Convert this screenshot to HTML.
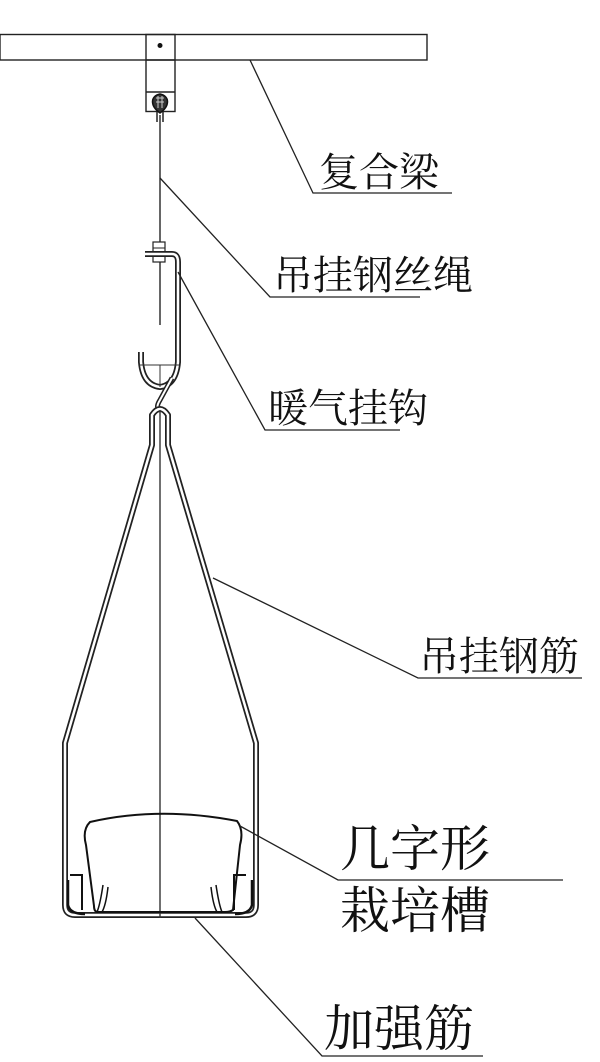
<!DOCTYPE html>
<html><head><meta charset="utf-8"><style>
html,body{margin:0;padding:0;background:#fff;width:600px;height:1062px;overflow:hidden}
text{font-family:"Liberation Serif","Noto Serif CJK SC",serif;fill:#111}
</style></head><body>
<svg width="600" height="1062" viewBox="0 0 600 1062" xmlns="http://www.w3.org/2000/svg">
<g fill="none" stroke="#222" stroke-width="1.4">
<!-- beam -->
<rect x="0" y="34.5" width="427" height="25.5"/>
<rect x="146" y="34.5" width="29" height="77"/>
<line x1="146" y1="60" x2="175" y2="60"/>
<line x1="146" y1="92" x2="175" y2="92"/>
</g>
<circle cx="160" cy="45.5" r="2.5" fill="#111"/>
<!-- eyelet -->
<path d="M160,113 C150,106 150,96 160,94 C170,96 170,106 160,113Z" fill="#333" stroke="#111" stroke-width="1.5"/>
<path d="M156,98 L164,98 M156,102 L164,102 M158,96 L158,108 M162,96 L162,108" stroke="#ccc" stroke-width="1"/>
<path d="M157,112 L157,122 M163,112 L163,122" stroke="#222" stroke-width="1.5"/>
<!-- wire -->
<line x1="160" y1="115" x2="160" y2="325" stroke="#333" stroke-width="1.5"/>
<!-- nut -->
<rect x="153" y="242" width="12" height="20" fill="#fff" stroke="#222" stroke-width="1.2"/>
<line x1="153" y1="248" x2="165" y2="248" stroke="#222"/>
<line x1="153" y1="256" x2="165" y2="256" stroke="#222"/>
<!-- hook -->
<g fill="none">
<path d="M145,254 L172,254 Q178,254 178,262 L178,362 Q176,385 160,387 Q143,385 141,362 L141,352" stroke="#222" stroke-width="6"/>
<path d="M145,254 L172,254 Q178,254 178,262 L178,362 Q176,385 160,387 Q143,385 141,362 L141,352" stroke="#fff" stroke-width="2.5"/>
<line x1="139" y1="365" x2="179" y2="365" stroke="#333" stroke-width="1"/>
<line x1="160" y1="365" x2="160" y2="387" stroke="#333" stroke-width="1"/>
<path d="M172,378 L160,400 Q155,408 160,410" stroke="#222" stroke-width="5"/>
<path d="M172,378 L160,400 Q155,408 160,410" stroke="#fff" stroke-width="2"/>
</g>
<!-- rods -->
<g fill="none">
<path d="M152,445 L152,415 Q160,403 168,415 L168,445 L256,743 L256,905 Q256,915 246,915 L75,915 Q65,915 65,905 L65,743 Z" stroke="#222" stroke-width="6" stroke-linejoin="round"/>
<path d="M152,445 L152,415 Q160,403 168,415 L168,445 L256,743 L256,905 Q256,915 246,915 L75,915 Q65,915 65,905 L65,743 Z" stroke="#fff" stroke-width="2.5" stroke-linejoin="round"/>
</g>
<line x1="160" y1="410" x2="160" y2="918" stroke="#333" stroke-width="1.4"/>
<!-- trough -->
<g fill="none" stroke="#111" stroke-width="2">
<path d="M90,822 Q160,806 237,821 Q244,830 240,845 L233,910 Q230,912 225,912 L98,912 Q94,912 94,906 L86,845 Q82,830 90,822Z"/>
<path d="M70,875 L82,875 L82,910 M246,875 L234,875 L234,910"/>
<path d="M103,885 Q100,905 97,912 M108,887 Q106,905 102,912 M216,885 Q219,905 222,912 M211,887 Q213,905 217,912" stroke-width="1.5"/>
<path d="M68,880 L68,905 Q70,914 85,914 M252,880 L252,905 Q250,914 235,914" stroke-width="2.5"/>
</g>
<!-- leaders -->
<g fill="none" stroke="#222" stroke-width="1.3">
<path d="M250,60 L313,193 L452,193"/>
<path d="M160,178 L270,297 L420,297"/>
<path d="M178,272 L265,430 L400,430"/>
<path d="M213,578 L418,678 L582,678"/>
<path d="M240,826 L338,880 L563,880"/>
<path d="M195,918 L322,1056 L483,1056"/>
</g>
<text x="319" y="186" font-size="40">复合梁</text>
<text x="273" y="289" font-size="40">吊挂钢丝绳</text>
<text x="268" y="422" font-size="40">暖气挂钩</text>
<text x="419" y="670" font-size="40">吊挂钢筋</text>
<text x="340" y="866" font-size="50">几字形</text>
<text x="340" y="928" font-size="50">栽培槽</text>
<text x="324" y="1046" font-size="50">加强筋</text>
</svg>
</body></html>
